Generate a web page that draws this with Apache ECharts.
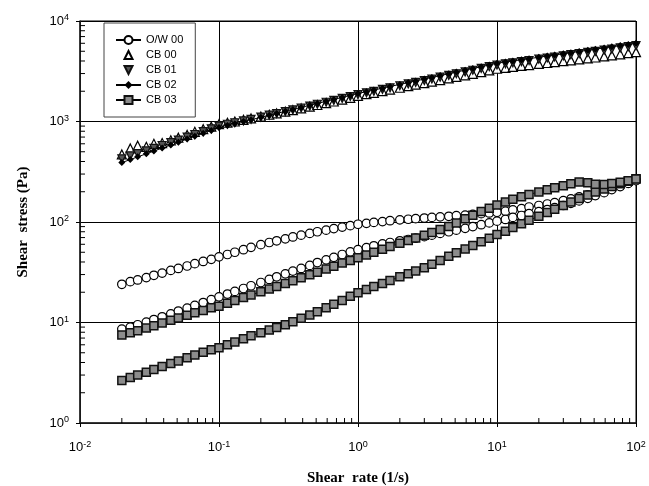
<!DOCTYPE html>
<html>
<head>
<meta charset="utf-8">
<script src="https://cdn.jsdelivr.net/npm/echarts@6/dist/echarts.min.js"></script>
<style>
  html, body { margin: 0; padding: 0; background: #fff; }
  #chart { width: 649px; height: 486px; }
</style>
</head>
<body>
<div id="chart"></div>
<script>
// shear rate (1/s), shared by every series
var shearRate = [0.020, 0.023, 0.026, 0.030, 0.034, 0.039, 0.045, 0.051, 0.059, 0.067, 0.077, 0.088,
  0.10, 0.115, 0.13, 0.15, 0.17, 0.20, 0.23, 0.26, 0.30, 0.34, 0.39, 0.45, 0.51, 0.59, 0.67, 0.77, 0.88,
  1.0, 1.15, 1.3, 1.5, 1.7, 2.0, 2.3, 2.6, 3.0, 3.4, 3.9, 4.5, 5.1, 5.9, 6.7, 7.7, 8.8,
  10, 11.5, 13, 15, 17, 20, 23, 26, 30, 34, 39, 45, 51, 59, 67, 77, 88, 100]

// shear stress (Pa)
// O/W 00 - two branches of circles
var owUpper = [24, 25.5, 26.5, 28, 29.5, 31, 33, 34.5, 36.5, 38.5, 40.5, 42.5,
  45, 47.5, 50, 53, 56, 59.5, 62.5, 65, 68, 71, 74, 77, 80, 83, 86, 89, 92,
  95, 97, 99, 101, 103, 105, 106.5, 108, 109.5, 111, 112.5, 114, 115.5, 117, 119, 121, 123,
  125, 128, 132, 136, 141, 146, 151, 156, 163, 170, 178, 186, 194, 205, 216, 229, 244, 260]
var owLower = [8.6, 9.0, 9.5, 10.1, 10.7, 11.4, 12.2, 13.0, 13.9, 14.8, 15.8, 16.9,
  18.0, 19.2, 20.4, 21.8, 23.2, 25, 26.8, 28.5, 30.5, 32.5, 34.5, 37, 39.5, 42, 44.5, 47.5, 50.5,
  53, 55.5, 58, 60.5, 62.5, 65, 67, 69, 71.5, 74, 77, 80, 83, 86.5, 90, 94, 98,
  102, 106, 111, 116, 121, 127, 133, 139, 146, 153, 162, 172, 183, 196, 210, 225, 242, 258]
var cb00 = [470, 540, 575, 560, 600, 610, 650, 690, 735, 790, 839, 888,
  940, 972, 1000, 1038, 1072, 1122, 1167, 1203, 1252, 1297, 1350, 1406, 1459, 1523, 1581, 1650, 1722,
  1800, 1869, 1931, 2007, 2075, 2168, 2249, 2323, 2412, 2492, 2584, 2682, 2775, 2883, 2981, 3097, 3220,
  3350, 3423, 3489, 3569, 3640, 3736, 3819, 3892, 3981, 4058, 4148, 4244, 4334, 4444, 4546, 4659, 4780, 4900]
var cb01 = [425, 455, 478, 510, 541, 577, 616, 653, 700, 742, 793, 845,
  900, 939, 972, 1014, 1051, 1106, 1155, 1199, 1254, 1304, 1362, 1425, 1485, 1555, 1619, 1695, 1772,
  1850, 1929, 1998, 2085, 2162, 2268, 2364, 2449, 2555, 2649, 2759, 2877, 2986, 3117, 3237, 3371, 3509,
  3650, 3747, 3833, 3943, 4037, 4167, 4286, 4383, 4506, 4619, 4740, 4873, 4995, 5135, 5260, 5405, 5552, 5700]
var cb02 = [390, 418, 445, 477, 508, 544, 584, 622, 669, 712, 763, 815,
  870, 913, 951, 998, 1041, 1100, 1155, 1203, 1262, 1317, 1380, 1448, 1512, 1588, 1657, 1737, 1817,
  1900, 1982, 2056, 2147, 2229, 2341, 2442, 2533, 2645, 2745, 2862, 2987, 3104, 3243, 3368, 3511, 3655,
  3800, 3907, 4001, 4116, 4218, 4359, 4483, 4590, 4723, 4842, 4974, 5119, 5247, 5400, 5537, 5689, 5844, 6000]
// CB 03 - two branches of squares
var cb03Upper = [7.5, 7.9, 8.3, 8.8, 9.3, 9.9, 10.5, 11.1, 11.8, 12.5, 13.2, 14.0,
  14.5, 15.5, 16.6, 17.7, 18.8, 20.2, 21.5, 22.8, 24.5, 26.0, 27.8, 29.8, 31.7, 34, 36.3, 39, 41.5,
  44, 47, 50, 53.5, 57, 61.5, 65.5, 69.5, 74, 78.5, 84, 90, 98, 108, 117, 127, 137,
  148, 158, 168, 178, 188, 199, 209, 219, 229, 240, 250, 246, 238, 236, 241, 249, 258, 268]
var cb03Lower = [2.65, 2.83, 3.0, 3.2, 3.4, 3.65, 3.9, 4.15, 4.45, 4.75, 5.05, 5.35,
  5.6, 6.0, 6.4, 6.9, 7.4, 7.9, 8.4, 8.9, 9.5, 10.2, 11.0, 11.9, 12.8, 14.0, 15.2, 16.6, 18.2,
  19.8, 21.3, 22.8, 24.5, 26.2, 28.5, 30.5, 32.5, 35, 38, 41.5, 45.5, 49.5, 54, 58.5, 63.5, 69,
  75, 81, 88, 96, 104, 114, 124, 134, 146, 158, 171, 186, 199, 213, 226, 240, 255, 270]

var legendNames = ['O/W 00', 'CB 00', 'CB 01', 'CB 02', 'CB 03']
var xDecades = [-2, -1, 0, 1]
var yDecades = [0, 1, 2, 3]

function pairs (ys) {
  return shearRate.map(function (x, i) { return [x, ys[i]] })
}

// minor ticks 2..9 of every decade
var xMinor = []
xDecades.forEach(function (d) {
  for (var k = 2; k <= 9; k++) xMinor.push([k * Math.pow(10, d), 1])
})
var yMinor = []
yDecades.forEach(function (d) {
  for (var k = 2; k <= 9; k++) yMinor.push([0.01, k * Math.pow(10, d)])
})

var chart = echarts.init(document.getElementById('chart'))

var labelRich = {
  sup: { fontSize: 9, fontFamily: 'Liberation Sans', color: '#000', verticalAlign: 'top', lineHeight: 9 }
}
function powLabel (v) {
  return '10{sup|' + Math.round(Math.log10(v)) + '}'
}

var circleStyle = { color: '#fff', borderColor: '#000', borderWidth: 1.2 }
var squareStyle = { color: '#8c8c8c', borderColor: '#111', borderWidth: 1.5 }
// markers only, line kept for the legend icon but hidden
var noLine = { width: 0, opacity: 0 }

var option = {
  animation: false,
  backgroundColor: '#fff',
  grid: {
    left: 80,
    right: 13,
    top: 21,
    bottom: 63,
    outerBoundsMode: 'none',
    show: true,
    borderColor: '#000',
    borderWidth: 1
  },
  legend: {
    data: legendNames,
    orient: 'vertical',
    left: 104,
    top: 23,
    padding: [11, 12, 11, 11],
    itemGap: 3,
    itemWidth: 25,
    itemHeight: 10,
    borderColor: '#444',
    borderWidth: 1,
    textStyle: { fontFamily: 'Liberation Sans', fontSize: 11, color: '#000', lineHeight: 12 }
  },
  xAxis: {
    type: 'log',
    logBase: 10,
    min: 0.01,
    max: 100,
    splitNumber: 4,
    name: 'Shear  rate (1/s)',
    nameLocation: 'middle',
    nameGap: 48,
    nameTextStyle: { fontFamily: 'Liberation Serif', fontWeight: 'bold', fontSize: 15, color: '#000' },
    axisLine: { lineStyle: { color: '#222', width: 1.5 } },
    axisTick: { show: true, length: 4, lineStyle: { color: '#000' } },
    axisLabel: {
      margin: 17,
      color: '#000',
      fontFamily: 'Liberation Sans',
      fontSize: 13,
      lineHeight: 15,
      formatter: powLabel,
      rich: labelRich
    },
    splitLine: { show: true, lineStyle: { color: '#000', width: 1 } }
  },
  yAxis: {
    type: 'log',
    logBase: 10,
    min: 1,
    max: 10000,
    splitNumber: 4,
    name: 'Shear  stress (Pa)',
    nameLocation: 'middle',
    nameGap: 49,
    nameTextStyle: { fontFamily: 'Liberation Serif', fontWeight: 'bold', fontSize: 15, color: '#000' },
    axisLine: { lineStyle: { color: '#222', width: 1.5 } },
    axisTick: { show: true, length: 4, lineStyle: { color: '#000' } },
    axisLabel: {
      margin: 11,
      color: '#000',
      fontFamily: 'Liberation Sans',
      fontSize: 13,
      lineHeight: 15,
      formatter: powLabel,
      rich: labelRich
    },
    splitLine: { show: true, lineStyle: { color: '#000', width: 1 } }
  },
  series: [
    {
      name: 'CB 00',
      type: 'line',
      symbol: 'triangle',
      symbolSize: 9,
      showAllSymbol: true,
      itemStyle: { color: '#fff', borderColor: '#000', borderWidth: 1.2 },
      lineStyle: noLine,
      data: pairs(cb00)
    },
    {
      name: 'CB 01',
      type: 'line',
      symbol: 'triangle',
      symbolRotate: 180,
      symbolSize: 8,
      showAllSymbol: true,
      itemStyle: { color: '#555', borderColor: '#111', borderWidth: 1.2 },
      lineStyle: noLine,
      data: pairs(cb01)
    },
    {
      name: 'CB 02',
      type: 'line',
      symbol: 'diamond',
      symbolSize: 7,
      showAllSymbol: true,
      itemStyle: { color: '#000' },
      lineStyle: { color: '#000', width: 1 },
      data: pairs(cb02)
    },
    {
      name: 'O/W 00',
      type: 'line',
      symbol: 'circle',
      symbolSize: 8.5,
      showAllSymbol: true,
      itemStyle: circleStyle,
      lineStyle: { color: '#000', width: 1 },
      data: pairs(owUpper)
    },
    {
      name: 'O/W 00',
      type: 'line',
      symbol: 'circle',
      symbolSize: 8.5,
      showAllSymbol: true,
      itemStyle: circleStyle,
      lineStyle: { color: '#000', width: 1 },
      data: pairs(owLower)
    },
    {
      name: 'CB 03',
      type: 'line',
      symbol: 'rect',
      symbolSize: 8,
      showAllSymbol: true,
      itemStyle: squareStyle,
      lineStyle: { color: '#000', width: 1 },
      data: pairs(cb03Lower)
    },
    {
      name: 'CB 03',
      type: 'line',
      symbol: 'rect',
      symbolSize: 8,
      showAllSymbol: true,
      itemStyle: squareStyle,
      lineStyle: { color: '#000', width: 1 },
      data: pairs(cb03Upper)
    },
    {
      // minor ticks on the x axis, pointing inward
      type: 'custom',
      silent: true,
      clip: false,
      data: xMinor,
      renderItem: function (params, api) {
        var p = api.coord([api.value(0), api.value(1)])
        return {
          type: 'line',
          shape: { x1: p[0], y1: p[1], x2: p[0], y2: p[1] - 5 },
          style: { stroke: '#000', lineWidth: 1 }
        }
      }
    },
    {
      // minor ticks on the y axis
      type: 'custom',
      silent: true,
      clip: false,
      data: yMinor,
      renderItem: function (params, api) {
        var p = api.coord([api.value(0), api.value(1)])
        return {
          type: 'line',
          shape: { x1: p[0], y1: p[1], x2: p[0] + 5, y2: p[1] },
          style: { stroke: '#000', lineWidth: 1 }
        }
      }
    }
  ]
}

chart.setOption(option)
</script>
</body>
</html>
